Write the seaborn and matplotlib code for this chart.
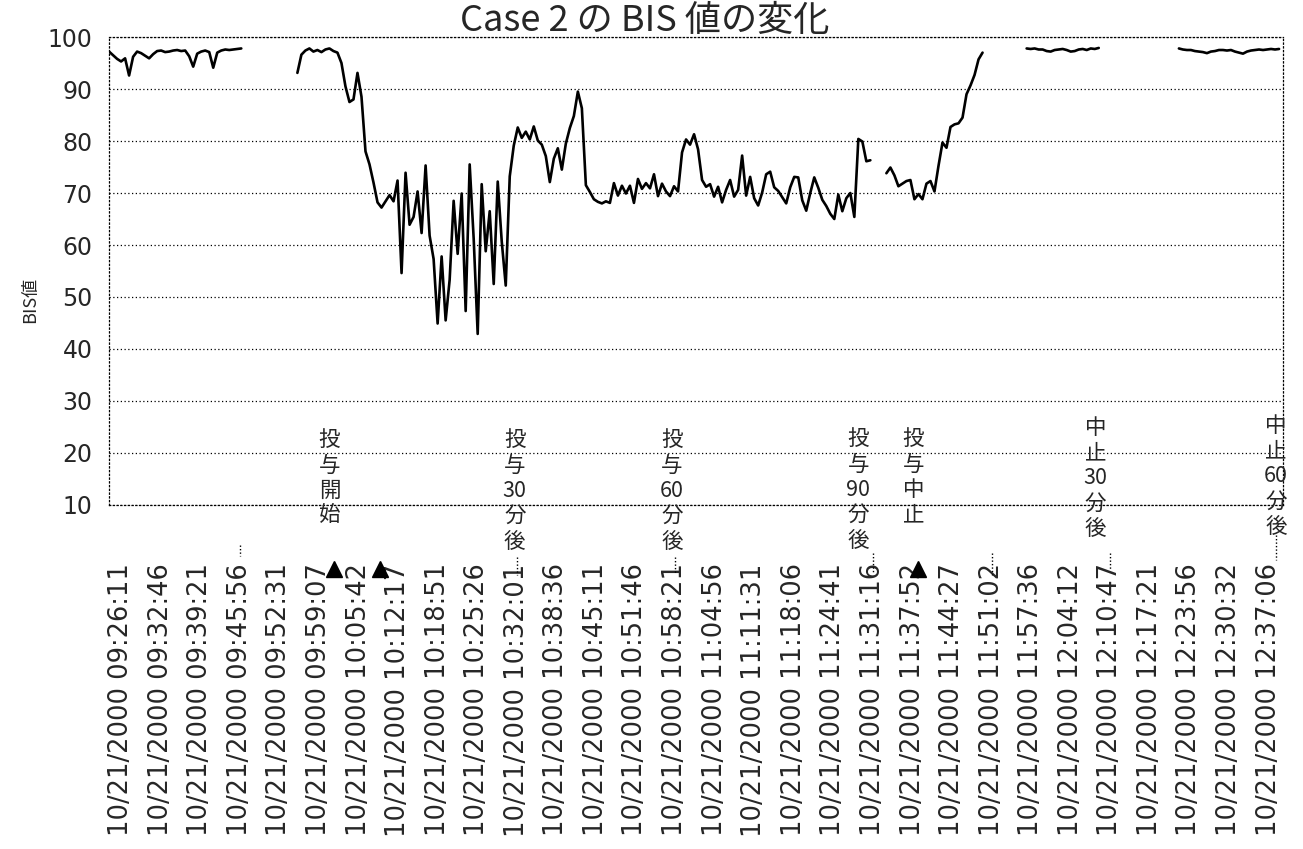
import matplotlib
matplotlib.use('Agg')
import matplotlib.pyplot as plt
import numpy as np
import pandas as pd
import seaborn as sns

nan = np.nan

# BIS readings, one every 40 s from 09:24:11 (gaps = no signal)
start_time = "2000-10-21 09:24:11"
sample_step = "40s"

seg1 = [97.2, 96.5, 95.8, 95.3, 95.9, 92.6, 96.2, 97.2, 96.9, 96.4,
        95.9, 96.7, 97.3, 97.4, 97.1, 97.2, 97.4, 97.5, 97.3, 97.4,
        96.3, 94.3, 96.8, 97.2, 97.4, 97.1, 94.1, 97.0, 97.4, 97.6,
        97.5, 97.6, 97.7, 97.8]
gap1 = 13
seg2 = [93.1, 96.6, 97.4, 97.8, 97.2, 97.5, 97.1, 97.6, 97.8, 97.3,
        97.0, 95.0, 90.5, 87.5, 88.0, 93.1, 88.5, 78.0, 75.5, 72.0,
        68.2, 67.2, 68.4, 69.6, 68.4, 72.4, 54.6, 73.9, 63.9, 65.4,
        70.3, 62.3, 75.3, 61.8, 57.3, 44.9, 57.8, 45.5, 53.3, 68.5,
        58.3, 69.9, 47.3, 75.5, 61.2, 42.9, 71.7, 58.8, 66.5, 52.5,
        72.2, 60.7, 52.2, 73.2, 79.1, 82.6, 80.6, 81.8, 80.3, 82.8,
        80.1, 79.3, 77.1, 72.1, 76.6, 78.6, 74.5, 79.5, 82.5, 84.8,
        89.5, 86.3, 71.5, 70.2, 68.8, 68.3, 68.0, 68.4, 68.1, 71.9,
        69.5, 71.4, 69.9, 71.4, 68.1, 72.7, 70.8, 71.9, 70.9, 73.6,
        69.4, 71.8, 70.3, 69.4, 71.3, 70.3, 77.8, 80.3, 79.3, 81.3,
        78.4, 72.5, 71.2, 71.7, 69.3, 71.2, 68.2, 70.6, 72.5, 69.3,
        70.6, 77.2, 69.5, 73.1, 69.0, 67.6, 70.1, 73.6, 74.1, 71.1,
        70.4, 69.2, 68.0, 71.1, 73.1, 73.0, 68.6, 66.6, 70.0, 73.0,
        71.0, 68.7, 67.5, 66.0, 65.0, 69.7, 66.5, 69.0, 70.0, 65.4,
        80.4, 79.9, 76.1, 76.3]
gap2 = 3
seg3 = [73.8, 74.9, 73.4, 71.3, 71.8, 72.3, 72.5, 68.8, 69.8, 68.8,
        71.8, 72.3, 70.3, 75.2, 79.7, 78.7, 82.7, 83.2, 83.4, 84.5,
        89.0, 90.7, 92.7, 95.7, 97.0]
gap3 = 10
seg4 = [97.8, 97.7, 97.8, 97.6, 97.6, 97.3, 97.2, 97.5, 97.6, 97.7,
        97.5, 97.2, 97.3, 97.6, 97.7, 97.5, 97.8, 97.7, 97.9]
gap4 = 19
seg5 = [97.8, 97.6, 97.5, 97.5, 97.3, 97.2, 97.1, 96.9, 97.2, 97.3,
        97.5, 97.5, 97.4, 97.5, 97.2, 97.0, 96.8, 97.2, 97.4, 97.5,
        97.6, 97.5, 97.6, 97.7, 97.6, 97.7]

bis = (seg1 + [nan] * gap1 + seg2 + [nan] * gap2 + seg3 + [nan] * gap3
       + seg4 + [nan] * gap4 + seg5)

tick_labels = ["10/21/2000 09:26:11", "10/21/2000 09:32:46", "10/21/2000 09:39:21",
               "10/21/2000 09:45:56", "10/21/2000 09:52:31", "10/21/2000 09:59:07",
               "10/21/2000 10:05:42", "10/21/2000 10:12:17", "10/21/2000 10:18:51",
               "10/21/2000 10:25:26", "10/21/2000 10:32:01", "10/21/2000 10:38:36",
               "10/21/2000 10:45:11", "10/21/2000 10:51:46", "10/21/2000 10:58:21",
               "10/21/2000 11:04:56", "10/21/2000 11:11:31", "10/21/2000 11:18:06",
               "10/21/2000 11:24:41", "10/21/2000 11:31:16", "10/21/2000 11:37:52",
               "10/21/2000 11:44:27", "10/21/2000 11:51:02", "10/21/2000 11:57:36",
               "10/21/2000 12:04:12", "10/21/2000 12:10:47", "10/21/2000 12:17:21",
               "10/21/2000 12:23:56", "10/21/2000 12:30:32", "10/21/2000 12:37:06"]

# event notes (written vertically under the curve)
event_texts = ["投\n与\n開\n始", "投\n与\n30\n分\n後", "投\n与\n60\n分\n後",
               "投\n与\n90\n分\n後", "投\n与\n中\n止", "中\n止\n30\n分\n後",
               "中\n止\n60\n分\n後"]
event_times = ["10:00:51", "10:31:41", "10:57:51", "11:28:51", "11:38:01",
               "12:08:21", "12:38:21"]
event_tops = [24.6, 24.6, 24.6, 24.8, 24.8, 27.0, 27.4]

marker_times = ["10:01:41", "10:09:11", "11:38:51"]

# short dotted leaders from the notes down to the time labels
leader_times = ["09:45:56", "10:32:01", "10:58:21", "11:31:16", "11:51:02",
                "12:10:47", "12:38:21"]
leader_top = [2.3, 0.0, 0.0, 0.8, 0.8, 0.8, 4.2]
leader_bottom = [0.2, -3.5, -3.1, -2.9, -3.5, -2.5, -0.6]

times = pd.date_range(start_time, periods=len(bis), freq=sample_step)
df = pd.DataFrame({"time": times, "bis": bis})
df["seg"] = df["bis"].isna().cumsum()
df = df.dropna()

sns.set_theme(style="white")
plt.rcParams['font.family'] = ['DejaVu Sans', 'Noto Sans CJK JP']
cjk = ['Noto Sans CJK JP', 'DejaVu Sans']

fig = plt.figure(figsize=(13.03, 8.49), dpi=100)
ax = fig.add_axes([0.0837, 0.4052, 0.9010, 0.5512])

sns.lineplot(data=df, x="time", y="bis", units="seg", estimator=None,
             color="black", linewidth=1.9, ax=ax)

day = "2000-10-21 "
t_end = pd.Timestamp(start_time) + pd.Timedelta(seconds=40 * len(bis))
ax.set_xlim(pd.Timestamp(start_time), t_end)
ax.set_ylim(10, 100)
ax.set_yticks(range(10, 101, 10))
ax.tick_params(axis='y', labelsize=17, pad=12, length=0)

tick_pos = pd.to_datetime(tick_labels, format="%m/%d/%Y %H:%M:%S")
ax.set_xticks(tick_pos)
ax.set_xticklabels(tick_labels, rotation=90, fontsize=18.5, family='DejaVu Sans')
ax.tick_params(axis='x', length=0, pad=42)

ax.set_xlabel("")
ax.set_ylabel("")
ax.grid(axis='y', color='black', linestyle=(0, (1, 2)), linewidth=0.9)
ax.grid(axis='x', visible=False)
for s in ax.spines.values():
    s.set_linestyle((0, (1, 2)))
    s.set_color('black')
    s.set_linewidth(0.9)

for txt, t, top in zip(event_texts, event_times, event_tops):
    ax.text(pd.Timestamp(day + t), top, txt, ha='center', va='top',
            fontsize=15.5, family=cjk, linespacing=1.2, clip_on=False)

for t, y0, y1 in zip(leader_times, leader_top, leader_bottom):
    tt = pd.Timestamp(day + t)
    ax.plot([tt, tt], [y0, y1], color='black', linestyle=(0, (1, 1.5)),
            linewidth=1, clip_on=False)

for t in marker_times:
    ax.plot([pd.Timestamp(day + t)], [-2.4], marker='^', color='black',
            markersize=11, linestyle='none', clip_on=False)

fig.text(0.495, 0.975, "Case 2 の BIS 値の変化", ha='center', va='center',
         fontsize=26, family=cjk)
fig.text(0.023, 0.647, "BIS値", rotation=90, ha='center', va='center',
         fontsize=13, family=cjk)

plt.savefig("out.png", dpi=100)
plt.close()
